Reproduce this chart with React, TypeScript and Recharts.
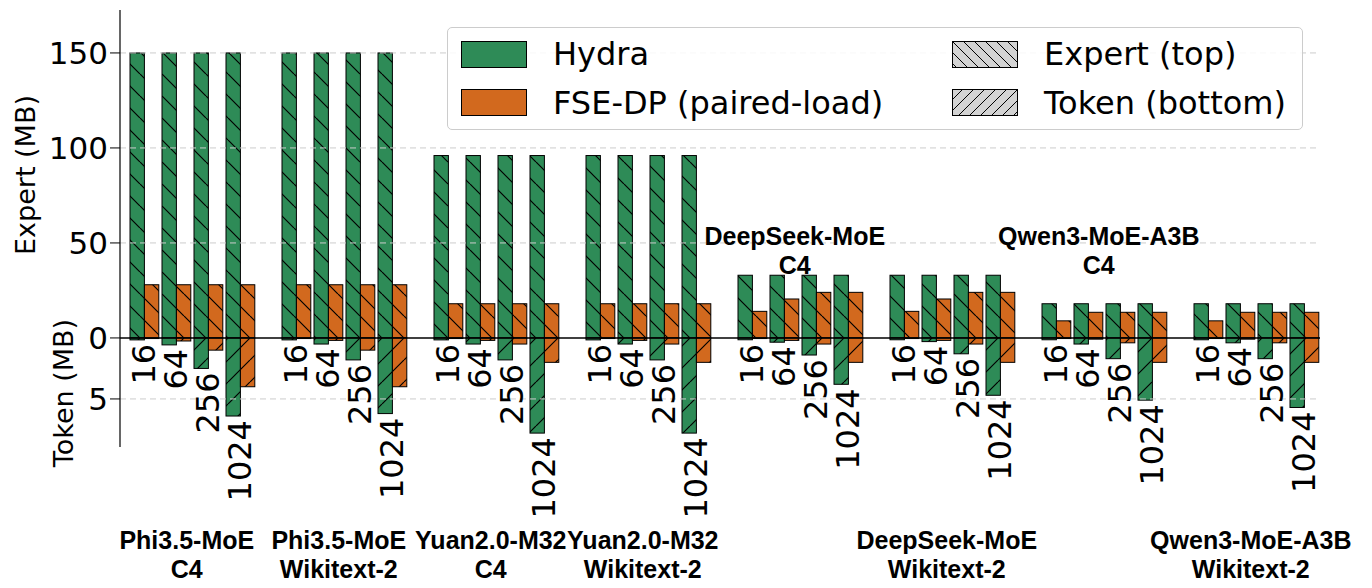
import React from "react";
import { BarChart, Bar, XAxis, YAxis, ReferenceLine, LabelList } from "recharts";

const models = ["Phi3.5-MoE", "Phi3.5-MoE", "Yuan2.0-M32", "Yuan2.0-M32", "DeepSeek-MoE", "DeepSeek-MoE", "Qwen3-MoE-A3B", "Qwen3-MoE-A3B"];
const datasets = ["C4", "Wikitext-2", "C4", "Wikitext-2", "C4", "Wikitext-2", "C4", "Wikitext-2"];
const batches = ["16", "64", "256", "1024"];
const hydraExpert = [
  [150, 150, 150, 150], [150, 150, 150, 150], [96, 96, 96, 96], [96, 96, 96, 96],
  [33, 33, 33, 33], [33, 33, 33, 33], [18, 18, 18, 18], [18, 18, 18, 18],
];
const hydraToken = [
  [0.16, 0.57, 2.5, 6.4], [0.16, 0.5, 1.8, 6.2], [0.16, 0.5, 1.8, 7.8], [0.16, 0.5, 1.8, 7.8],
  [0.15, 0.35, 1.4, 3.8], [0.15, 0.3, 1.3, 4.7], [0.15, 0.5, 1.7, 5.1], [0.15, 0.4, 1.7, 5.7],
];
const fseExpert = [
  [28, 28, 28, 28], [28, 28, 28, 28], [18, 18, 18, 18], [18, 18, 18, 18],
  [14, 20.5, 24, 24], [14, 20.5, 24, 24], [9, 13.5, 13.5, 13.5], [9, 13.5, 13.5, 13.5],
];
const fseToken = [
  [0.05, 0.25, 1.0, 4.0], [0.05, 0.2, 1.0, 4.0], [0.05, 0.2, 0.5, 2.0], [0.05, 0.2, 0.5, 2.0],
  [0.05, 0.2, 0.5, 2.0], [0.05, 0.2, 0.5, 2.0], [0.05, 0.1, 0.4, 2.0], [0.05, 0.1, 0.4, 2.0],
];
const expertTicks = [0, 50, 100, 150];
const tokenTicks = [5];

const K = 12.2 / 1.9; // token px-per-MB relative to expert scale
const GROUP_STEP = 4.75;

const data = models.flatMap((m, g) =>
  batches.map((b, i) => ({
    x: g * GROUP_STEP + i,
    g, i, batch: b,
    hTop: hydraExpert[g][i],
    hBot: -hydraToken[g][i] * K,
    fTop: fseExpert[g][i],
    fBot: -fseToken[g][i] * K,
  }))
);

const GREEN = "#2e8b57";
const ORANGE = "#d2691e";
const FONT = "DejaVu Sans, sans-serif";

const mkShape = (color: string, hatch: string) => (p: any) => {
  const { x, y, width, height } = p;
  const yy = Math.min(y, y + height);
  const h = Math.abs(height);
  if (!h) return <g />;
  return (
    <g>
      <rect x={x} y={yy} width={width} height={h} fill={color} />
      <rect x={x} y={yy} width={width} height={h} fill={`url(#${hatch})`} stroke="#000" strokeWidth={1} />
    </g>
  );
};

const batchLabel = (p: any) => {
  const { x, y, width, height, index } = p;
  const bottom = Math.max(y, y + height);
  const cx = x + width;
  const cy = bottom + 4;
  return (
    <text x={cx} y={cy} transform={`rotate(-90 ${cx} ${cy})`} textAnchor="end" dominantBaseline="central"
      fontSize={32} fontFamily={FONT} fill="#000">{data[index].batch}</text>
  );
};

const groupLabel = (p: any) => {
  const { x, width, index } = p;
  const d = data[index];
  if (d.i !== 1) return null;
  const cx = x + width - 4;
  const above = d.g === 4 || d.g === 6;
  const y1 = above ? 228 : 532;
  return (
    <g fontFamily="Liberation Sans, Arial, sans-serif" fontWeight="bold" fontSize={25} fill="#000" textAnchor="middle">
      <text x={cx} y={y1} dominantBaseline="central">{models[d.g]}</text>
      <text x={cx} y={y1 + 29} dominantBaseline="central">{datasets[d.g]}</text>
    </g>
  );
};

const LegendBox = () => {
  const patch = (fill: string, hatch?: string) => (
    <svg width={66} height={27} style={{ display: "block" }}>
      <defs>
        <pattern id={`lg-${hatch}`} patternUnits="userSpaceOnUse" width={11} height={11}>
          {hatch === "back" ? <path d="M0,0 L11,11 M-11,0 L0,11 M11,0 L22,11" stroke="#000" strokeWidth={1} />
            : <path d="M0,11 L11,0 M-11,11 L0,0 M11,11 L22,0" stroke="#000" strokeWidth={1} />}
        </pattern>
      </defs>
      <rect x={0.5} y={0.5} width={65} height={26} fill={fill} stroke="#000" />
      {hatch && <rect x={0.5} y={0.5} width={65} height={26} fill={`url(#lg-${hatch})`} stroke="#000" />}
    </svg>
  );
  const item = (p: React.ReactNode, label: string) => (
    <div style={{ display: "flex", alignItems: "center", height: 48 }}>
      {p}
      <span style={{ marginLeft: 26, fontSize: 32, fontFamily: FONT, whiteSpace: "nowrap" }}>{label}</span>
    </div>
  );
  return (
    <div style={{ position: "absolute", left: 439, top: 19, width: 856, height: 103, border: "1px solid #ccc",
      borderRadius: 5, background: "rgba(255,255,255,0.85)", boxSizing: "border-box", padding: "2px 13px",
      display: "grid", gridTemplateColumns: "491px auto" }}>
      {item(patch(GREEN), "Hydra")}
      {item(patch("#d3d3d3", "back"), "Expert (top)")}
      {item(patch(ORANGE), "FSE-DP (paired-load)")}
      {item(patch("#d3d3d3", "fwd"), "Token (bottom)")}
    </div>
  );
};

export default function App() {
  const gridVals = [...expertTicks.filter((v) => v !== 0), ...tokenTicks.map((t) => -t * K)];
  return (
    <div style={{ position: "relative", width: 1356, height: 580, background: "#fff" }}>
      <BarChart width={1356} height={580} data={data} margin={{ top: 2, right: 44, bottom: 141, left: 0 }}
        stackOffset="sign" barGap={0} barSize={16}>
        <defs>
          <pattern id="back" patternUnits="userSpaceOnUse" width={22} height={22}>
            <path d="M0,0 L22,22 M-22,0 L0,22 M22,0 L44,22" stroke="#000" strokeWidth={1.2} />
          </pattern>
          <pattern id="fwd" patternUnits="userSpaceOnUse" width={22} height={22}>
            <path d="M0,22 L22,0 M-22,22 L0,0 M22,22 L44,0" stroke="#000" strokeWidth={1.2} />
          </pattern>
        </defs>
        <XAxis dataKey="x" type="number" domain={[-0.75, 36.75]} hide />
        <YAxis type="number" domain={[-57.4, 172.6]} width={112} allowDataOverflow
          ticks={[-tokenTicks[0] * K, ...expertTicks]}
          tickFormatter={(v: number) => (v < 0 ? String(Math.round(-v / K)) : String(v))}
          tick={{ fontSize: 31, fontFamily: FONT, fill: "#000" }} tickSize={10}
          axisLine={{ stroke: "#000", strokeWidth: 1.2 }} tickLine={{ stroke: "#000" }} />
        {gridVals.map((v) => (
          <ReferenceLine key={v} y={v} stroke="#ccc" strokeDasharray="6 4" />
        ))}
        <Bar dataKey="hTop" stackId="h" isAnimationActive={false} shape={mkShape(GREEN, "back")} />
        <Bar dataKey="hBot" stackId="h" isAnimationActive={false} shape={mkShape(GREEN, "fwd")}>
          <LabelList dataKey="batch" content={batchLabel} />
        </Bar>
        <Bar dataKey="fTop" stackId="f" isAnimationActive={false} shape={mkShape(ORANGE, "back")}>
          <LabelList dataKey="batch" content={groupLabel} />
        </Bar>
        <Bar dataKey="fBot" stackId="f" isAnimationActive={false} shape={mkShape(ORANGE, "fwd")} />
        <ReferenceLine y={0} stroke="#000" strokeWidth={1.5} />
      </BarChart>
      <svg width={100} height={580} style={{ position: "absolute", left: 0, top: 0, pointerEvents: "none" }}>
        <text x={17} y={167} transform="rotate(-90 17 167)" textAnchor="middle" dominantBaseline="central"
          fontSize={27} fontFamily={FONT}>Expert (MB)</text>
        <text x={55} y={385} transform="rotate(-90 55 385)" textAnchor="middle" dominantBaseline="central"
          fontSize={27} fontFamily={FONT}>Token (MB)</text>
      </svg>
      <LegendBox />
    </div>
  );
}
